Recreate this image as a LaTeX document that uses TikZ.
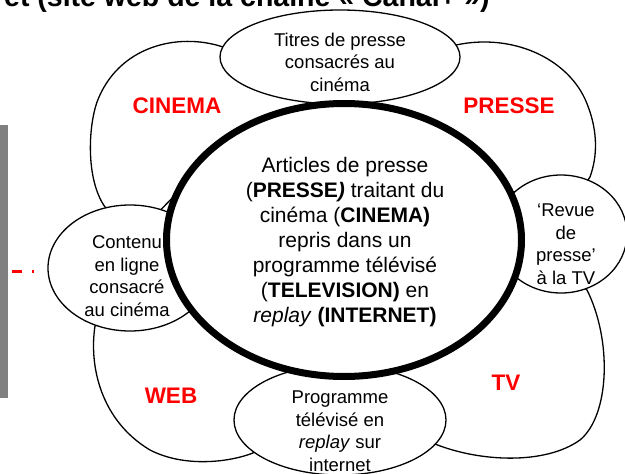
\documentclass[tikz,border=0pt]{standalone}
\usepackage{fontspec}
\setmainfont{Liberation Sans}
\usetikzlibrary{shapes.geometric}
\definecolor{barg}{RGB}{128,128,128}
\definecolor{lblred}{RGB}{255,0,0}
\begin{document}
\begin{tikzpicture}[x=1pt,y=-1pt,
  petal/.style={draw=black, line width=1.3pt, fill=white},
  bubble/.style={ellipse, draw=black, line width=1.3pt, fill=white, inner sep=0pt},
  bubtext/.style={align=center, font=\fontsize{18.5}{22.5}\selectfont, inner sep=0pt},
  maintext/.style={align=center, font=\fontsize{21}{25}\selectfont, inner sep=0pt},
  redlab/.style={text=lblred, font=\fontsize{22.5}{27}\selectfont\bfseries, inner sep=0pt, anchor=base}]
\useasboundingbox (0,0) rectangle (625,474);
\clip (0,0) rectangle (625,474);
\fill[white] (0,0) rectangle (625,474);

% title strip (cut at top)
\node[anchor=base west, font=\fontsize{28.5}{34}\selectfont\bfseries, inner sep=0pt] (title) at (4,6.5) {et (site web de la chaîne « Canal+ »)};

% left grey bar and red marks
\fill[barg] (0,125) rectangle (8,398);
\fill[lblred] (12,269.5) rectangle (22,272.5);
\fill[lblred] (32,269.5) rectangle (34,273);

% petals
\draw[petal] (223,47) .. controls (178,32) and (118,46) .. (97,102)
  .. controls (88,128) and (86,180) .. (105,207)
  -- (145,226) -- (180,190) -- (335,106) -- (335,80) -- cycle;
\draw[petal] (456,45) .. controls (512,33) and (566,58) .. (585,99)
  .. controls (598,128) and (598,155) .. (590,177)
  -- (575,200) -- (500,190) -- (350,106) -- (350,80) -- cycle;
\draw[petal] (95,326) .. controls (89,365) and (100,420) .. (150,450)
  .. controls (185,468) and (230,462) .. (253,453)
  -- (290,400) -- (300,360) -- (180,290) -- (150,300) -- cycle;
\draw[petal] (435,444) .. controls (480,462) and (545,465) .. (580,440)
  .. controls (610,415) and (612,340) .. (587,290)
  -- (560,270) -- (505,280) -- (370,372) -- (400,420) -- cycle;

% small ellipses
\node[bubble, minimum width=240pt, minimum height=94pt] (topE) at (340,57) {};
\node[bubble, minimum width=164pt, minimum height=126pt] (leftE) at (130,268) {};
\node[bubble, minimum width=132pt, minimum height=118pt] (rightE) at (561,234) {};
\node[bubble, minimum width=212pt, minimum height=110pt] (bottomE) at (340,420) {};

% central ellipse
\node[ellipse, draw=black, fill=white, line width=7pt, inner sep=0pt,
  minimum width=355pt, minimum height=273pt] (core) at (344,240) {};

% texts
\node[bubtext] (topT) at (340,62) {Titres de presse\\consacrés au\\cinéma};
\node[bubtext] (leftT) at (127,276) {Contenu\\en ligne\\consacré\\au cinéma};
\node[bubtext] (rightT) at (566,244) {‘Revue\\de\\presse’\\à la TV};
\node[bubtext] (bottomT) at (340,431) {Programme\\télévisé en\\\textit{replay} sur\\internet};
\node[maintext] (coreT) at (345,242) {Articles de presse\\(\textbf{PRESSE\textit{)}} traitant du\\cinéma (\textbf{CINEMA)}\\repris dans un\\programme télévisé\\(\textbf{TELEVISION)} en\\\textit{replay} \textbf{(INTERNET)}};

\node[redlab] (lcin) at (177,113) {CINEMA};
\node[redlab] (lpre) at (509,113) {PRESSE};
\node[redlab] (lweb) at (171,403) {WEB};
\node[redlab] (ltv) at (506,390) {TV};
\end{tikzpicture}
\end{document}
